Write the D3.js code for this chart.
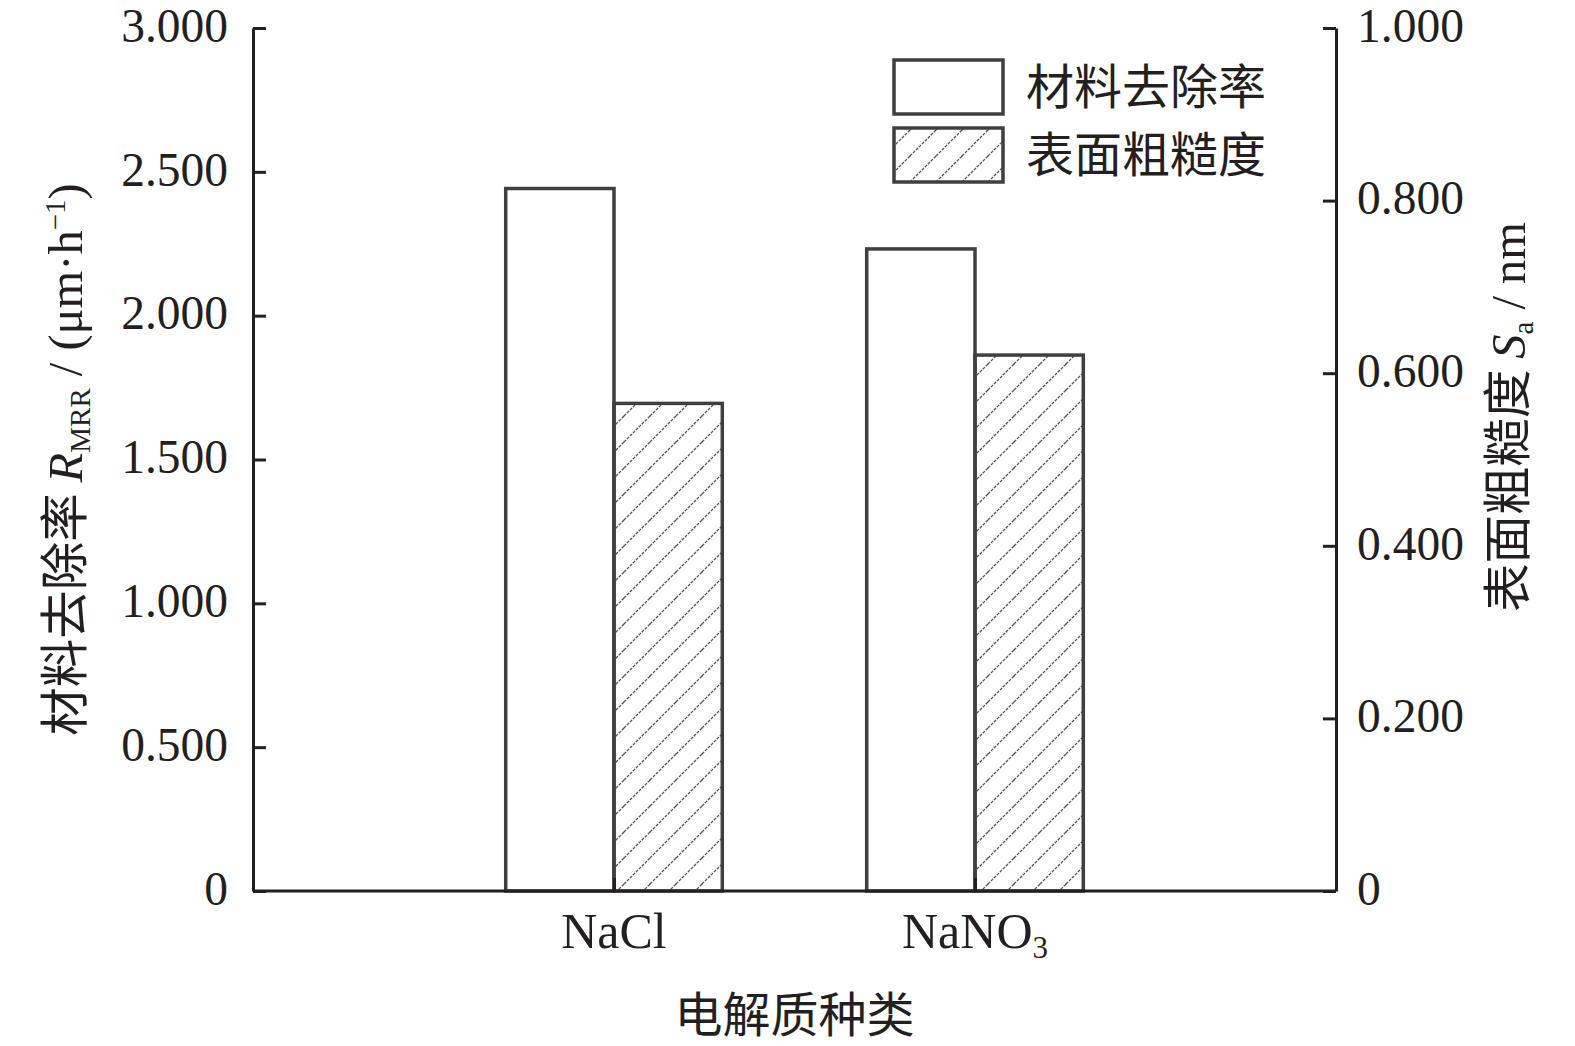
<!DOCTYPE html>
<html>
<head>
<meta charset="utf-8">
<script src="https://cdn.jsdelivr.net/npm/d3@7"></script>
<style>
  html, body { margin: 0; padding: 0; background: #fff; }
  svg { display: block; }
  .serif { font-family: "Liberation Serif", "DejaVu Serif", serif; }
  .cjk { font-family: "Noto Sans CJK SC", sans-serif; }
</style>
</head>
<body>
<script>
// ---- data ----
const categories = ["NaCl", "NaNO3"];
const mrrValues = [2.442, 2.232];      // 材料去除率 R_MRR (μm·h^-1), left axis
const saValues = [0.565, 0.621];       // 表面粗糙度 Sa (nm), right axis
const leftTicks = [0, 0.5, 1.0, 1.5, 2.0, 2.5, 3.0];
const leftTickLabels = ["0", "0.500", "1.000", "1.500", "2.000", "2.500", "3.000"];
const rightTicks = [0, 0.2, 0.4, 0.6, 0.8, 1.0];
const rightTickLabels = ["0", "0.200", "0.400", "0.600", "0.800", "1.000"];
const seriesNames = ["材料去除率", "表面粗糙度"];

// ---- layout ----
const W = 1575, H = 1046;
const plot = { left: 253, right: 1336, top: 28, bottom: 891 };
const ink = "#231f20";
const barStroke = "#3f3f41";

const svg = d3.select("body").append("svg").attr("width", W).attr("height", H);

// hatch pattern
const defs = svg.append("defs");
const pat = defs.append("pattern")
  .attr("id", "hatch").attr("patternUnits", "userSpaceOnUse")
  .attr("width", 26).attr("height", 26);
pat.append("path")
  .attr("d", "M-6.5,6.5 L6.5,-6.5 M0,26 L26,0 M19.5,32.5 L32.5,19.5")
  .attr("stroke", "#555").attr("stroke-width", 1.3)
  .attr("stroke-dasharray", "3,1.2").attr("fill", "none");

const x = d3.scaleBand().domain(categories)
  .range([plot.left, plot.right]).paddingInner(0.4).paddingOuter(0.7);
const xs = d3.scaleBand().domain(["mrr", "sa"]).range([0, x.bandwidth()]);
const yL = d3.scaleLinear().domain([0, 3]).range([plot.bottom, plot.top]);
const yR = d3.scaleLinear().domain([0, 1]).range([plot.bottom, plot.top]);

// bars
const g = svg.append("g");
g.selectAll("rect.mrr").data(categories).join("rect")
  .attr("class", "mrr")
  .attr("x", d => x(d) + xs("mrr"))
  .attr("width", xs.bandwidth())
  .attr("y", (d, i) => yL(mrrValues[i]))
  .attr("height", (d, i) => yL(0) - yL(mrrValues[i]))
  .attr("fill", "#fff").attr("stroke", barStroke).attr("stroke-width", 3.5);
g.selectAll("rect.sa").data(categories).join("rect")
  .attr("class", "sa")
  .attr("x", d => x(d) + xs("sa"))
  .attr("width", xs.bandwidth())
  .attr("y", (d, i) => yR(saValues[i]))
  .attr("height", (d, i) => yR(0) - yR(saValues[i]))
  .attr("fill", "url(#hatch)").attr("stroke", barStroke).attr("stroke-width", 3.5);

// axes
function styleAxis(sel) {
  sel.select(".domain").attr("stroke", ink).attr("stroke-width", 3);
  sel.selectAll(".tick line").attr("stroke", ink).attr("stroke-width", 3);
  sel.selectAll(".tick text").attr("fill", ink)
    .attr("dy", "0.28em")
    .style("font-size", "47.5px")
    .style("font-family", '"Liberation Serif", serif');
}
const axL = svg.append("g").attr("transform", `translate(${plot.left},0)`)
  .call(d3.axisLeft(yL).tickValues(leftTicks)
    .tickFormat((d, i) => leftTickLabels[i])
    .tickSizeInner(-13).tickSizeOuter(0).tickPadding(25));
styleAxis(axL);
const axR = svg.append("g").attr("transform", `translate(${plot.right},0)`)
  .call(d3.axisRight(yR).tickValues(rightTicks)
    .tickFormat((d, i) => rightTickLabels[i])
    .tickSizeInner(-13).tickSizeOuter(0).tickPadding(21));
styleAxis(axR);
const xTickScale = d3.scalePoint().domain(categories)
  .range([x(categories[0]) + x.bandwidth() / 2, x(categories[1]) + x.bandwidth() / 2]);
const axB = svg.append("g").attr("transform", `translate(0,${plot.bottom})`)
  .call(d3.axisBottom(xTickScale).tickFormat("")
    .tickSizeInner(-13).tickSizeOuter(0));
axB.select(".domain").attr("d", `M${plot.left},0H${plot.right}`);
styleAxis(axB);

// category labels (with subscript)
const catText = svg.append("g").attr("class", "serif")
  .style("font-size", "50px").attr("fill", ink).attr("text-anchor", "middle");
categories.forEach(c => {
  const t = catText.append("text")
    .attr("x", xTickScale(c)).attr("y", 948);
  const m = c.match(/^(.*?)(\d+)$/);
  if (m) {
    t.append("tspan").text(m[1]);
    t.append("tspan").attr("dy", 10).style("font-size", "31px").text(m[2]);
  } else {
    t.text(c);
  }
});

// x axis title
svg.append("text").attr("class", "cjk")
  .attr("x", (plot.left + plot.right) / 2).attr("y", 1032)
  .attr("text-anchor", "middle").style("font-size", "48px").attr("fill", ink)
  .text("电解质种类");

// left axis title
const lt = svg.append("text")
  .attr("transform", `translate(82,${(plot.top + plot.bottom) / 2}) rotate(-90)`)
  .attr("text-anchor", "middle").attr("fill", ink).style("font-size", "48.5px");
lt.append("tspan").attr("class", "cjk").text("材料去除率 ");
lt.append("tspan").attr("class", "serif").style("font-style", "italic").text("R");
lt.append("tspan").attr("class", "serif").attr("dy", 8).style("font-size", "29px").text("MRR");
lt.append("tspan").attr("class", "serif").attr("dy", -8).text(" / (μm·h");
lt.append("tspan").attr("class", "serif").attr("dy", -17).style("font-size", "29px").text("−1");
lt.append("tspan").attr("class", "serif").attr("dy", 17).text(")");

// right axis title
const rt = svg.append("text")
  .attr("transform", `translate(1525,417) rotate(-90)`)
  .attr("text-anchor", "middle").attr("fill", ink).style("font-size", "48.5px");
rt.append("tspan").attr("class", "cjk").text("表面粗糙度 ");
rt.append("tspan").attr("class", "serif").style("font-style", "italic").text("S");
rt.append("tspan").attr("class", "serif").attr("dy", 8).style("font-size", "29px").text("a");
rt.append("tspan").attr("class", "serif").attr("dy", -8).text(" / nm");

// legend
const legend = svg.append("g");
const legendFills = ["#fff", "url(#hatch)"];
seriesNames.forEach((name, i) => {
  const y0 = 60 + i * 68;
  legend.append("rect").attr("x", 894).attr("y", y0).attr("width", 109).attr("height", 54)
    .attr("fill", legendFills[i]).attr("stroke", barStroke).attr("stroke-width", 3.5);
  legend.append("text").attr("class", "cjk").attr("x", 1026).attr("y", y0 + 44)
    .style("font-size", "48px").attr("fill", ink).text(name);
});
</script>
</body>
</html>
